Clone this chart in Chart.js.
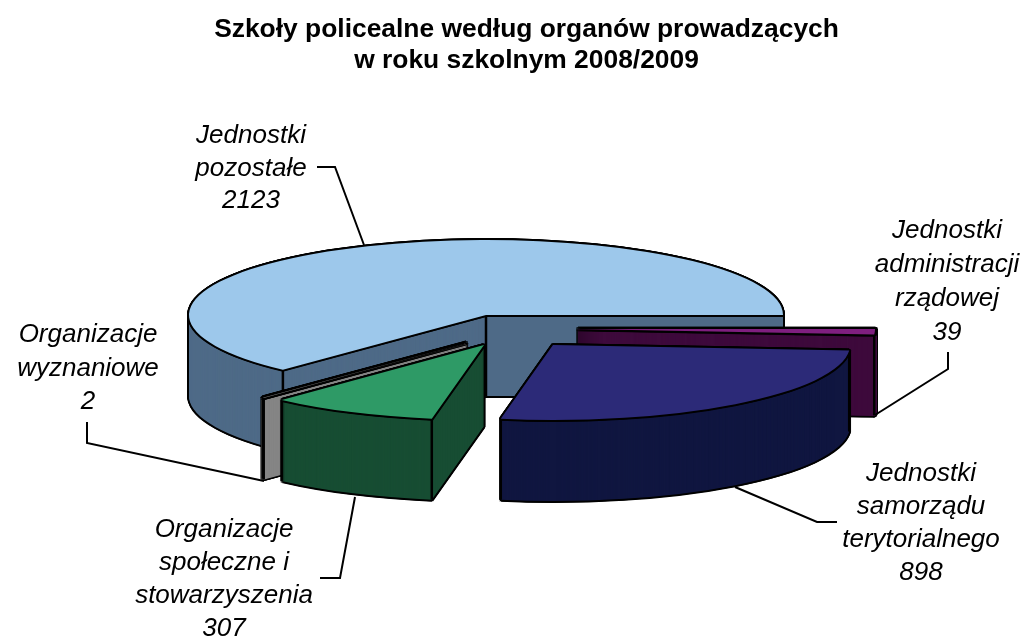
<!DOCTYPE html>
<html lang="pl">
<head>
<meta charset="utf-8">
<title>Szkoły policealne</title>
<script src="https://cdn.jsdelivr.net/npm/chart.js@4"></script>
<style>
  html, body { margin: 0; padding: 0; background: #fff; }
  canvas { display: block; }
</style>
</head>
<body>
<canvas id="myChart" width="1021" height="636"></canvas>
<script>
// Dane
const categories = [
    ['Jednostki', 'administracji', 'rządowej'],
    ['Jednostki', 'samorządu', 'terytorialnego'],
    ['Organizacje', 'społeczne i', 'stowarzyszenia'],
    ['Organizacje', 'wyznaniowe'],
    ['Jednostki', 'pozostałe']
];
const values = [39, 898, 307, 2, 2123];
const chartTitle = ['Szkoły policealne według organów prowadzących', 'w roku szkolnym 2008/2009'];

// Wygląd
const topColors = ['#7f1f7f', '#2c2a78', '#2e9a66', '#858585', '#9dc8eb'];
const sideColors = ['#3e0a3c', '#101640', '#174d33', '#858585', '#4e6a87'];
const sliceShift = [[92, 14], [67, 30], [-2, 30], [-20, 28], [0, 0]];
const drawOrder = [4, 0, 1, 3, 2];
const pieCenter = { x: 486, y: 315 };
const pieRadius = 297;
const squash = 0.2525;
const depth = 81;

const labelSpots = [
    { x: 947, y: 231 }, { x: 921, y: 474 }, { x: 224, y: 530 }, { x: 88, y: 335 }, { x: 251, y: 136 }
];
const labelGap = [34, 33, 33, 33.5, 32.5];
const leaders = [
    [[875, 415], [948, 369], [948, 352]],
    [[735, 487], [817, 522], [837, 522]],
    [[355, 497], [340, 578], [320, 578]],
    [[87, 422], [87, 443], [264, 481]],
    [[317, 167], [335, 167], [364, 245]]
];

// Rysuje jeden łuk z biblioteki, spłaszczony i przesunięty
function paintArc(ctx, arc, base, x, y, color, stroke) {
    arc.options = { ...base, backgroundColor: color, borderColor: color, borderWidth: stroke || 0 };
    ctx.save();
    ctx.translate(x, y);
    ctx.scale(1, squash);
    ctx.translate(-arc.x, -arc.y);
    arc.draw(ctx);
    ctx.restore();
}

const halo = [[-2, 0], [2, 0], [0, -2], [0, 2], [-1.4, -1.4], [1.4, -1.4], [-1.4, 1.4], [1.4, 1.4]];

const pie3d = {
    id: 'pie3d',
    beforeDatasetsDraw(chart) {
        const ctx = chart.ctx;
        const arcs = chart.getDatasetMeta(0).data;
        drawOrder.forEach(i => {
            const arc = arcs[i];
            const base = arc.options;
            const x = pieCenter.x + sliceShift[i][0];
            const y = pieCenter.y + sliceShift[i][1];
            // cienkie wycinki trzeba pogrubić, inaczej znikają
            const thin = arc.circumference < 0.1;
            // obrys bryły
            for (let d = depth; d >= 0; d--) {
                halo.forEach(h => paintArc(ctx, arc, base, x + h[0], y + d + h[1], '#000', thin ? 2 : 0));
            }
            // ściany
            for (let d = depth; d >= 1; d--) {
                paintArc(ctx, arc, base, x, y + d, sideColors[i], thin ? 4 : 0);
            }
            // pionowe krawędzie
            ctx.save();
            ctx.strokeStyle = '#000';
            ctx.lineWidth = 2.5;
            ctx.beginPath();
            [arc.startAngle, arc.endAngle].forEach(a => {
                if (Math.sin(a) > 0) {
                    const px = x + Math.cos(a) * arc.outerRadius;
                    const py = y + Math.sin(a) * arc.outerRadius * squash;
                    ctx.moveTo(px, py);
                    ctx.lineTo(px, py + depth);
                }
            });
            if (arc.circumference > Math.PI) {
                ctx.moveTo(x, y);
                ctx.lineTo(x, y + depth);
            }
            ctx.stroke();
            ctx.restore();
            // góra
            halo.forEach(h => paintArc(ctx, arc, base, x + h[0], y + h[1], '#000', thin ? 2 : 0));
            paintArc(ctx, arc, base, x, y, topColors[i]);
            arc.options = base;
        });
        return false;
    },
    afterDraw(chart) {
        const ctx = chart.ctx;
        ctx.save();
        ctx.strokeStyle = '#000';
        ctx.lineWidth = 2;
        leaders.forEach(pts => {
            ctx.beginPath();
            pts.forEach((p, k) => k ? ctx.lineTo(p[0], p[1]) : ctx.moveTo(p[0], p[1]));
            ctx.stroke();
        });
        ctx.fillStyle = '#000';
        ctx.font = 'italic 26px "Liberation Sans"';
        ctx.textAlign = 'center';
        ctx.textBaseline = 'middle';
        categories.forEach((lines, i) => {
            [...lines, String(values[i])].forEach((line, k) => {
                ctx.fillText(line, labelSpots[i].x, labelSpots[i].y + k * labelGap[i]);
            });
        });
        ctx.restore();
    }
};

new Chart(document.getElementById('myChart').getContext('2d'), {
    type: 'pie',
    data: {
        labels: categories.map(c => c.join(' ')),
        datasets: [{ data: values, backgroundColor: topColors, borderWidth: 0 }]
    },
    options: {
        responsive: false,
        animation: false,
        rotation: 90,
        radius: pieRadius,
        layout: { padding: { left: 32 } },
        plugins: {
            legend: { display: false },
            tooltip: { enabled: false },
            title: {
                display: true,
                text: chartTitle,
                color: '#000',
                font: { family: '"Liberation Sans"', size: 26.4, weight: 'bold', lineHeight: 1.17 },
                padding: { top: 14, bottom: 10 }
            }
        }
    },
    plugins: [pie3d]
});
</script>
</body>
</html>
